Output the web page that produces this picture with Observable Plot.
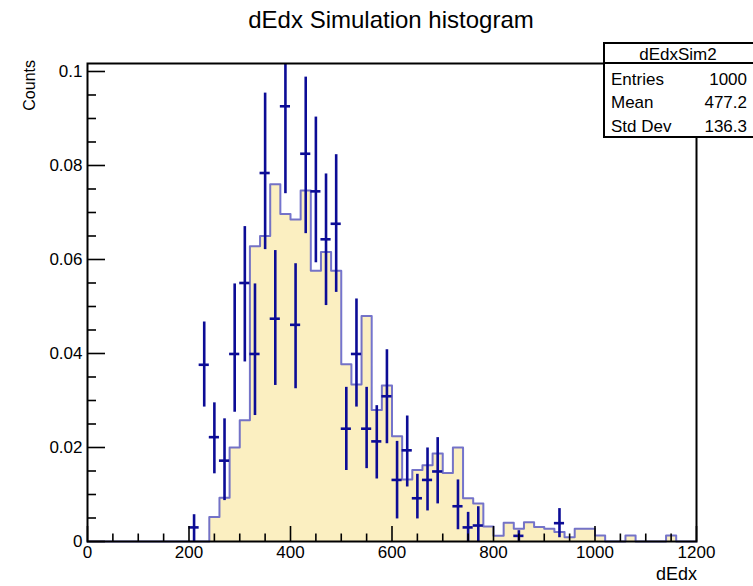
<!DOCTYPE html>
<html>
<head>
<meta charset="utf-8">
<script src="https://cdn.jsdelivr.net/npm/d3@7"></script>
<script src="https://cdn.jsdelivr.net/npm/@observablehq/plot@0.6"></script>
<style>
  html, body { margin: 0; padding: 0; background: #ffffff; }
  body { font-family: "Liberation Sans", Arial, Helvetica, sans-serif; color: #000; }
  #wrap { position: relative; width: 753px; height: 586px; overflow: hidden; }
  #wrap svg { position: absolute; left: 0; top: 0; }
  .t { position: absolute; white-space: nowrap; line-height: 20px; }
  #statsBox { position: absolute; left: 603px; top: 42px; width: 152px; height: 96px;
    box-sizing: border-box; border: 2px solid #000; background: #fff; }
  #statsSep { position: absolute; left: 603px; top: 62px; width: 152px; height: 2px; background: #000; }
</style>
</head>
<body>
<div id="wrap"></div>
<script>
// ---------------- data ----------------
const chartTitle = "dEdx Simulation histogram";
const xLabel = "dEdx";
const yLabel = "Counts";
const histName = "dEdxSim2";
const statNames = ["Entries", "Mean", "Std Dev"];
const statValues = ["1000", "477.2", "136.3"];

const binWidth = 20;      // histogram bin width (dEdx units)
const xMin = 0;
// normalized histogram contents, bins of 20 from 0 to 1200
const histValues = [
  0, 0, 0, 0, 0, 0, 0, 0, 0, 0, 0, 0,
  0.0052, 0.0093, 0.0200, 0.0258, 0.0628, 0.0650, 0.0760, 0.0697,
  0.0685, 0.0747, 0.0576, 0.0616, 0.0576, 0.0377, 0.0334, 0.0480,
  0.0280, 0.0332, 0.0224, 0.0132, 0.0152, 0.0162, 0.0187, 0.0146,
  0.0200, 0.0092, 0.0081, 0.0032, 0.0012, 0.0040, 0.0027, 0.0041,
  0.0031, 0.0027, 0.0020, 0.0009, 0.0027, 0.0027, 0.0013, 0,
  0, 0.0013, 0, 0, 0, 0.0013, 0, 0
];

// data points with error bars (bin centres)
const ptX  = [210, 230, 250, 270, 290, 310, 330, 350, 370, 390, 410, 430, 450, 470, 490,
              510, 530, 550, 570, 590, 610, 630, 650, 670, 690, 730, 750, 770, 850, 930];
const ptY  = [0.0030, 0.0376, 0.0222, 0.0172, 0.0399, 0.0550, 0.0399, 0.0784, 0.0474, 0.0926,
              0.0461, 0.0825, 0.0745, 0.0643, 0.0676, 0.0240, 0.0399, 0.0240, 0.0213, 0.0309,
              0.0131, 0.0194, 0.0092, 0.0131, 0.0149, 0.0075, 0.0030, 0.0034, 0.0012, 0.0039];
const ptLo = [0.0000, 0.0286, 0.0144, 0.0087, 0.0275, 0.0382, 0.0268, 0.0621, 0.0332, 0.0740,
              0.0325, 0.0655, 0.0593, 0.0502, 0.0530, 0.0151, 0.0286, 0.0155, 0.0133, 0.0208,
              0.0048, 0.0116, 0.0048, 0.0065, 0.0080, 0.0025, 0.0000, 0.0000, 0.0000, 0.0008];
const ptHi = [0.0057, 0.0467, 0.0295, 0.0261, 0.0548, 0.0670, 0.0548, 0.0954, 0.0619, 0.1110,
              0.0591, 0.0988, 0.0903, 0.0782, 0.0823, 0.0328, 0.0516, 0.0328, 0.0289, 0.0408,
              0.0213, 0.0267, 0.0143, 0.0199, 0.0221, 0.0131, 0.0062, 0.0074, 0.0023, 0.0070];

const xDomain = [0, 1200];
const yDomain = [0, 0.1017];
const xMajorTicks = [0, 200, 400, 600, 800, 1000, 1200];
const xMinorTicks = [50, 100, 150, 250, 300, 350, 450, 500, 550, 650, 700, 750, 850, 900, 950, 1050, 1100, 1150];
const yMajorTicks = [0, 0.02, 0.04, 0.06, 0.08, 0.1];
const yMinorTicks = [0.005, 0.01, 0.015, 0.025, 0.03, 0.035, 0.045, 0.05, 0.055, 0.065, 0.07, 0.075, 0.085, 0.09, 0.095];

// ---------------- derived tables ----------------
const bins = histValues.map((v, i) => ({x1: xMin + i * binWidth, x2: xMin + (i + 1) * binWidth, v}));
const outline = bins.map(b => ({x: b.x1, y: b.v}));
outline.push({x: bins[bins.length - 1].x2, y: 0});
const points = ptX.map((x, i) => ({x, y: ptY[i], lo: ptLo[i], hi: ptHi[i]}));

const fillColor = "#fbefc1";
const outlineColor = "#5c5cc6";
const pointColor = "#0c0c96";

const chart = Plot.plot({
  width: 753,
  height: 586,
  marginTop: 63,
  marginBottom: 45,
  marginLeft: 87,
  marginRight: 57,
  x: {domain: xDomain},
  y: {domain: yDomain},
  style: {fontFamily: "'Liberation Sans', Arial, Helvetica, sans-serif", fontSize: "17px", color: "#000", background: "transparent", overflow: "visible"},
  marks: [
    Plot.areaY(outline, {x: "x", y: "y", curve: "step-after", fill: fillColor}),
    Plot.line(outline, {x: "x", y: "y", curve: "step-after", stroke: outlineColor, strokeOpacity: 0.85, strokeWidth: 2}),
    Plot.ruleX(points, {x: "x", y1: "lo", y2: "hi", stroke: pointColor, strokeWidth: 2.6, clip: true}),
    Plot.ruleY(points, {y: "y", x1: d => d.x - binWidth / 2, x2: d => d.x + binWidth / 2, stroke: pointColor, strokeWidth: 2.6}),
    // inward ticks (ROOT style)
    Plot.ruleX(xMajorTicks, {x: d => d, y1: 0, y2: 0, insetTop: -15, stroke: "#000", strokeWidth: 1.6}),
    Plot.ruleX(xMinorTicks, {x: d => d, y1: 0, y2: 0, insetTop: -7.5, stroke: "#000", strokeWidth: 1.6}),
    Plot.ruleY(yMajorTicks, {y: d => d, x1: 0, x2: 0, insetRight: -18, stroke: "#000", strokeWidth: 1.6}),
    Plot.ruleY(yMinorTicks, {y: d => d, x1: 0, x2: 0, insetRight: -9, stroke: "#000", strokeWidth: 1.6}),
    Plot.axisX({ticks: xMajorTicks, tickSize: 0, tickPadding: 4, tickFormat: d3.format("d"), label: null, fontSize: 17}),
    Plot.axisY({ticks: yMajorTicks, tickSize: 0, tickPadding: 5, tickFormat: d3.format("~g"), label: null, fontSize: 17}),
    Plot.frame({stroke: "#000", strokeWidth: 2})
  ]
});

const wrap = document.getElementById("wrap");
wrap.appendChild(chart);

function addText(txt, css) {
  const d = document.createElement("div");
  d.className = "t";
  d.textContent = txt;
  Object.assign(d.style, css);
  wrap.appendChild(d);
  return d;
}

// title
addText(chartTitle, {fontSize: "24px", lineHeight: "24px", top: "8px", left: "391px", transform: "translateX(-50%)"});
// y axis title
addText(yLabel, {fontSize: "16px", lineHeight: "18px", left: "30px", top: "60px", transformOrigin: "0 0", transform: "rotate(-90deg) translateX(-100%) translateY(-50%)"});
// x axis title
addText(xLabel, {fontSize: "18px", lineHeight: "18px", right: (753 - 697) + "px", top: "565px"});

// stats box
const box = document.createElement("div"); box.id = "statsBox"; wrap.appendChild(box);
const sep = document.createElement("div"); sep.id = "statsSep"; wrap.appendChild(sep);
addText(histName, {fontSize: "17px", lineHeight: "20px", left: "678px", top: "45px", transform: "translateX(-50%)"});
const rowTops = [69.5, 93, 116.5];
statNames.forEach((n, i) => {
  addText(n, {fontSize: "17px", lineHeight: "20px", left: "611px", top: rowTops[i] + "px"});
  addText(statValues[i], {fontSize: "17px", lineHeight: "20px", right: "6px", top: rowTops[i] + "px"});
});
</script>
</body>
</html>
